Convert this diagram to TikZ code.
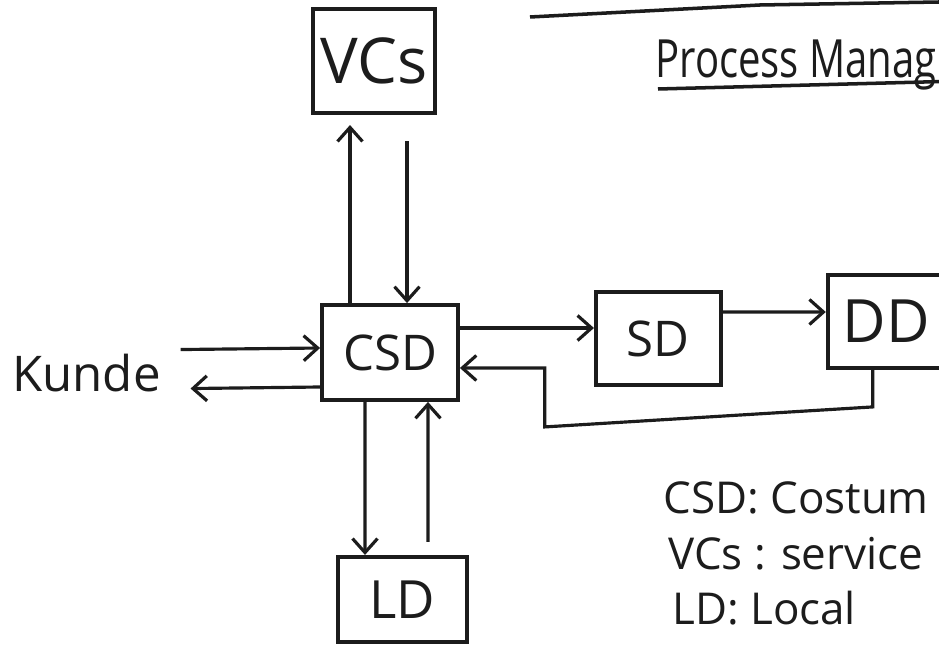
\documentclass[tikz,border=0pt]{standalone}
\usepackage{fontspec}
\setmainfont{Open Sans}
\usepackage{tikz}
\usetikzlibrary{arrows.meta, positioning}
\definecolor{ink}{HTML}{1C1C1C}

\begin{document}
\begin{tikzpicture}[node distance=2cm and 2cm]
    \tikzset{
        box/.style = {rectangle, draw=ink, line width=2.2pt, text=ink, inner sep=0pt, text centered},
        word/.style = {text=ink, inner sep=0pt},
        line/.style = {draw=ink, line width=1.8pt, -{Straight Barb[length=2.8mm, width=5mm, line width=1.8pt]}},
        rule/.style = {draw=ink, line width=2pt}
    }
    \useasboundingbox (0,0) rectangle (18.78,12.9);
    \clip (0,0) rectangle (18.78,12.9);
    \fill[white] (0,0) rectangle (18.78,12.9);

    \node[box, minimum width=2.72cm, minimum height=1.9cm, font=\fontsize{28}{30}\selectfont] (csd) at (7.8,5.85) {CSD};
    \node[box, minimum width=2.44cm, minimum height=2.08cm, font=\fontsize{36}{38}\selectfont, above=3.76cm of csd, xshift=-0.32cm] (vcs) {VCs};
    \node[box, minimum width=2.5cm, minimum height=1.86cm, font=\fontsize{28}{30}\selectfont, right=2.68cm of csd, yshift=0.28cm] (sd) {SD};
    \node[box, minimum width=2.34cm, minimum height=1.86cm, font=\fontsize{34}{36}\selectfont, right=2.06cm of sd, yshift=0.34cm] (dd) {DD};
    \node[box, minimum width=2.58cm, minimum height=1.7cm, font=\fontsize{30}{32}\selectfont, below=3.06cm of csd, xshift=0.25cm] (ld) {LD};
    \node[word, anchor=base west, font=\fontsize{28}{30}\selectfont] (kunde) at (0.24,5.06) {Kunde};

    \node[word, anchor=base west, font=\fontsize{30}{32}\selectfont] (title) at (13.1,11.34) {\scalebox{0.76}[1]{Process Manag}};
    \node[word, anchor=base west, font=\fontsize{25}{27}\selectfont] (csdkey) at (13.26,2.62) {CSD: Costum};
    \node[word, anchor=base west, font=\fontsize{25}{27}\selectfont] (vcskey) at (13.36,1.5) {VCs : service};
    \node[word, anchor=base west, font=\fontsize{25}{27}\selectfont] (ldkey) at (13.44,0.4) {LD: Local};

    \path[line] ([xshift=0.39cm, yshift=0.48cm]kunde.east) -- ([yshift=0.09cm]csd.west);
    \path[line] ([yshift=-0.69cm]csd.west) -- ([xshift=0.59cm, yshift=-0.3cm]kunde.east);
    \path[line] ([xshift=-0.8cm]csd.north) -- ([xshift=-0.48cm, yshift=-0.2cm]vcs.south);
    \path[line] ([xshift=0.66cm, yshift=-0.52cm]vcs.south) -- ([xshift=0.34cm]csd.north);
    \path[line] ([xshift=-0.5cm]csd.south) -- ([xshift=-0.75cm]ld.north);
    \path[line] ([xshift=0.51cm, yshift=0.26cm]ld.north) -- ([xshift=0.76cm]csd.south);
    \path[line] ([yshift=0.49cm]csd.east) -- ([yshift=0.21cm]sd.west);
    \path[line] ([yshift=0.53cm]sd.east) -- ([yshift=0.19cm]dd.west);
    \path[line] ([xshift=-0.27cm]dd.south) -- ++(0,-0.74) -- ++(-6.56,-0.4) |- ([yshift=-0.31cm]csd.east);

    \draw[rule] ([xshift=0.06cm, yshift=-0.22cm]title.base west) -- ++(5.7,0.15);
    \draw[rule] (10.6,12.56) -- (15.2,12.8) -- (18.78,12.86);
\end{tikzpicture}
\end{document}
